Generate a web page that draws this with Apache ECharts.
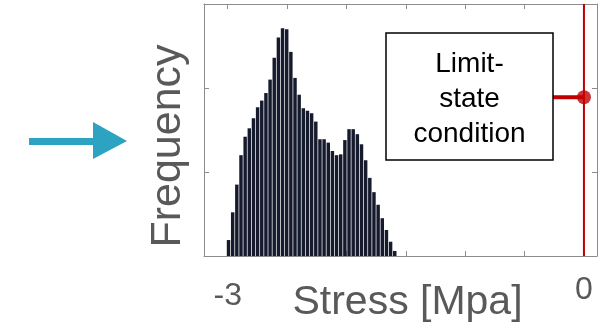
<!DOCTYPE html>
<html>
<head>
<meta charset="utf-8">
<script src="https://cdn.jsdelivr.net/npm/echarts@6/dist/echarts.min.js"></script>
<style>html,body{margin:0;padding:0;background:#fff}#c{width:598px;height:328px}</style>
</head>
<body>
<div id="c"></div>
<script>
// Histogram of stress (bin starts, bin width in MPa)
const binStart = -3.008;
const binWidth = 0.035;
const frequency = [19,52,85,120,142,152,164,177,185,194,210,236,260,271,270,243,212,192,176,173,170,160,139,139,135,125,120,121,138,151,151,145,133,114,93,76,61,45,31,17,6];
const xTickValues = [-3,-2.5,-2,-1.5,-1,-0.5,0];
const xLabelValues = [-3, 0];
const limitState = 0;
const limitMarkerY = 189;
const connectorStart = -0.262;
const boxText = 'Limit-\nstate\ncondition';

const histData = frequency.map((f, i) => [binStart + i * binWidth, f]);

const chart = echarts.init(document.getElementById('c'), null, {renderer: 'canvas'});
const axisLine = {show: true, onZero: false, lineStyle: {color: '#8c8c8c', width: 1}};
const tick = {show: true, inside: true, length: 5, lineStyle: {color: '#8c8c8c'}};
const FONT = 'Liberation Sans, Arial, sans-serif';

chart.setOption({
  animation: false,
  grid: {left: 204, right: 1, top: 4, bottom: 72, outerBoundsMode: 'none', containLabel: false},
  xAxis: [{
    type: 'value', min: -3.2, max: 0.11, position: 'bottom',
    axisLine: axisLine,
    axisTick: Object.assign({customValues: xTickValues}, tick),
    splitLine: {show: false},
    axisLabel: {
      customValues: xLabelValues, margin: 18, fontFamily: FONT,
      formatter: v => (Math.abs(v) < 1e-9 ? '{b|0}' : '{a|-3}'),
      rich: {
        a: {fontSize: 32, color: '#595959', fontFamily: FONT, padding: [6, 0, 0, 0]},
        b: {fontSize: 32, color: '#595959', fontFamily: FONT}
      }
    },
    name: 'Stress [Mpa]', nameLocation: 'middle', nameGap: 26, nameMoveOverlap: false,
    nameTextStyle: {fontSize: 41, color: '#595959', fontFamily: FONT, padding: [0, 0, 0, 14]}
  }, {
    type: 'value', min: -3.2, max: 0.11, position: 'top',
    axisLine: axisLine,
    axisTick: Object.assign({customValues: xTickValues}, tick),
    axisLabel: {show: false}, splitLine: {show: false}
  }],
  yAxis: [{
    type: 'value', min: 0, max: 300, interval: 100, position: 'left',
    axisLine: axisLine, axisTick: tick, axisLabel: {show: false}, splitLine: {show: false},
    name: 'Frequency', nameLocation: 'middle', nameGap: 14, nameMoveOverlap: false,
    nameTextStyle: {fontSize: 43, color: '#595959', fontFamily: FONT, padding: [0, 32, 0, 0]}
  }, {
    type: 'value', min: 0, max: 300, interval: 100, position: 'right',
    axisLine: axisLine, axisTick: tick, axisLabel: {show: false}, splitLine: {show: false}
  }],
  series: [{
    type: 'custom',
    data: histData,
    renderItem: function (params, api) {
      const x0 = api.value(0), y = api.value(1);
      const p0 = api.coord([x0, y]);
      const p1 = api.coord([x0 + binWidth, 0]);
      return {
        type: 'rect',
        shape: {x: p0[0], y: p0[1], width: p1[0] - p0[0] - 0.7, height: p1[1] - p0[1]},
        style: {fill: '#151a2d'}
      };
    },
    z: 2
  }, {
    type: 'line',
    data: [[limitState, 0], [limitState, 300]],
    symbol: 'none',
    lineStyle: {color: '#c00000', width: 2},
    z: 3
  }, {
    type: 'line',
    data: [[connectorStart, limitMarkerY], [limitState, limitMarkerY]],
    symbol: 'none',
    lineStyle: {color: '#c00000', width: 4},
    z: 4
  }, {
    type: 'scatter',
    data: [[limitState, limitMarkerY]],
    symbolSize: 14,
    itemStyle: {color: '#c00000'},
    z: 5
  }],
  graphic: [{
    type: 'rect',
    shape: {x: 386, y: 33, width: 167, height: 127},
    style: {fill: '#ffffff', stroke: '#000000', lineWidth: 1.5},
    z: 10
  }, {
    type: 'text',
    x: 469.5, y: 99,
    style: {text: boxText, fontSize: 28, lineHeight: 35, fontFamily: FONT, fill: '#000000', align: 'center', verticalAlign: 'middle'},
    z: 11
  }, {
    type: 'rect',
    shape: {x: 29, y: 138, width: 66, height: 7},
    style: {fill: '#2ba3c1'}
  }, {
    type: 'polygon',
    shape: {points: [[93, 122], [127, 141], [93, 159]]},
    style: {fill: '#2ba3c1'}
  }]
});
</script>
</body>
</html>
